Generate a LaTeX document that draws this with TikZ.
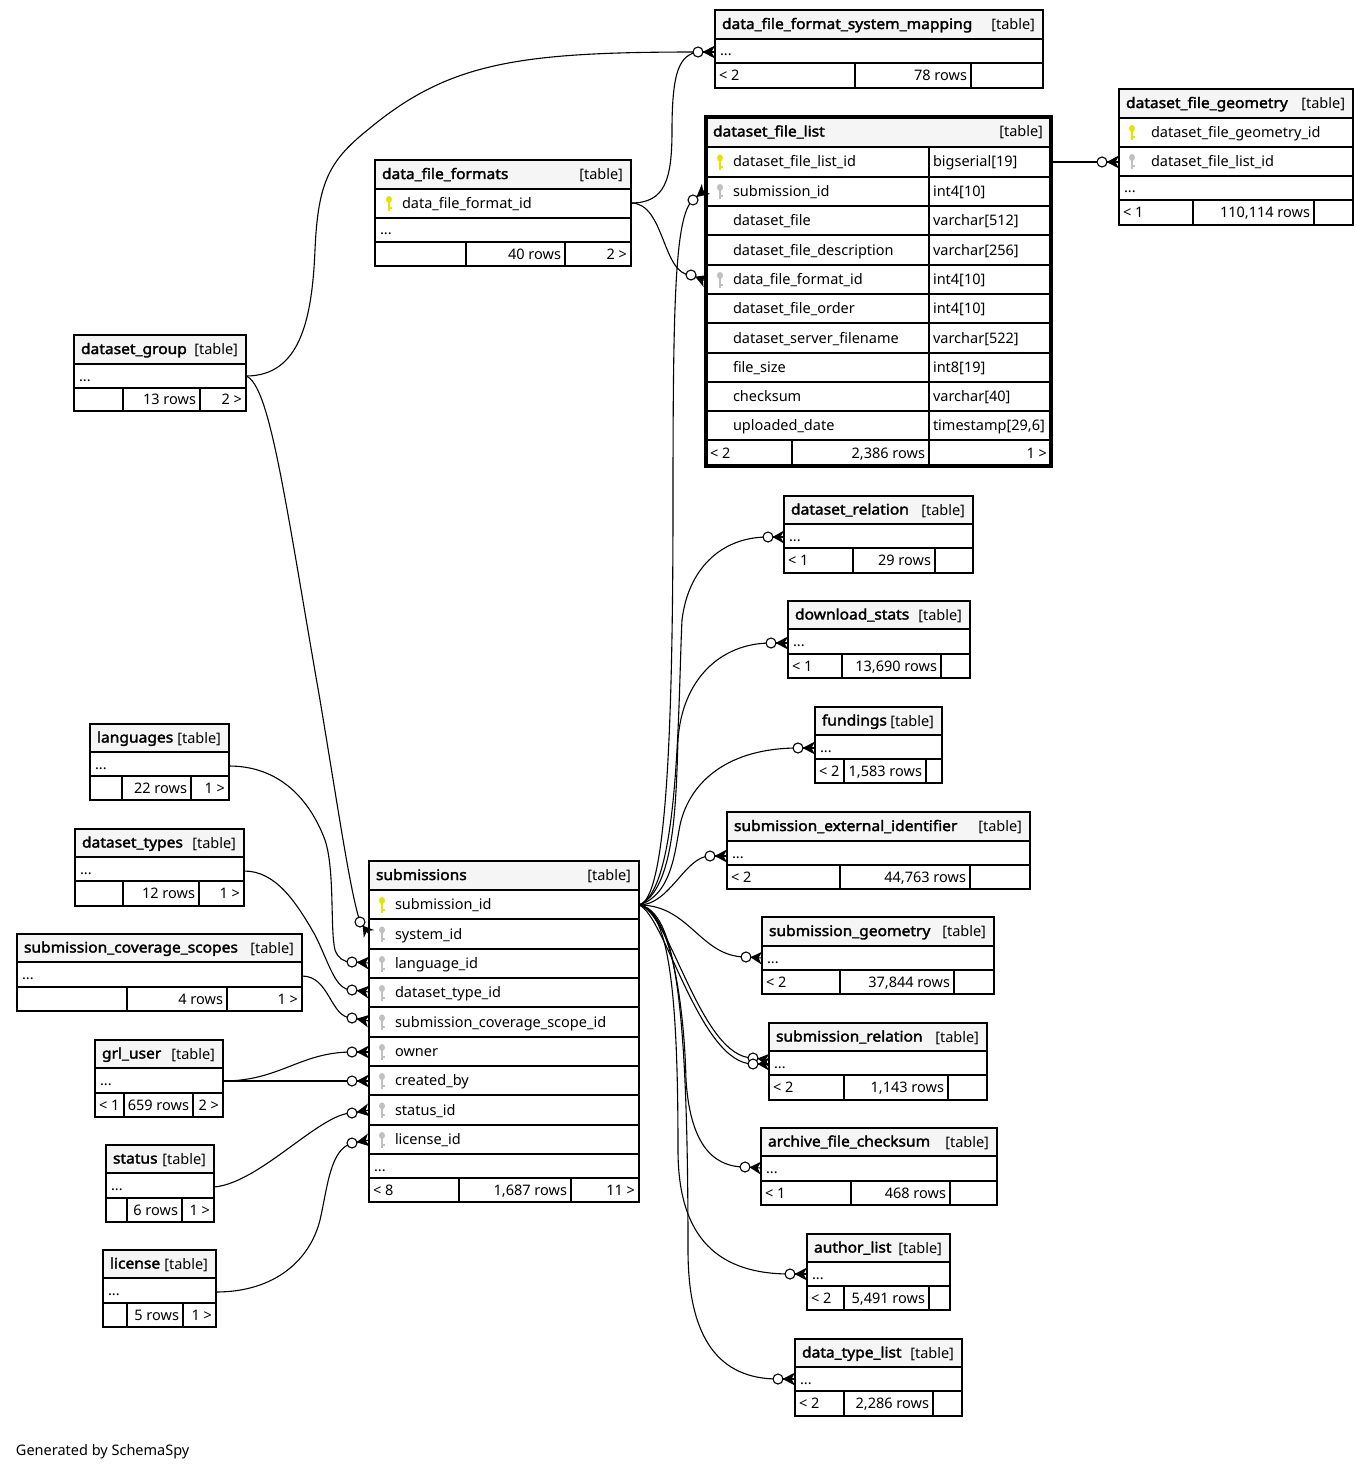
\documentclass[tikz,border=0pt]{standalone}
\usepackage{fontspec}
\setmainfont{Noto Sans}
\newfontfamily\hfont{Noto Sans}[FakeBold=2.2,FakeStretch=1.075]
\usetikzlibrary{calc}
\definecolor{headgray}{RGB}{245,245,245}
\definecolor{keyyellow}{RGB}{228,228,0}
\definecolor{keygray}{RGB}{192,192,192}
\tikzset{
  tbl/.style={draw=black, line width=1.3pt},
  txt/.style={inner sep=0pt, outer sep=0pt, anchor=base west},
  txtr/.style={inner sep=0pt, outer sep=0pt, anchor=base east},
  edge/.style={line width=1.1pt, draw=black},
  circ/.style={circle, draw=black, line width=1.1pt, fill=white, minimum size=10pt, inner sep=0pt},
}
\newcommand\KeyIcon[3]{%
  \fill[#1] ({#2},{#3-4}) ellipse [x radius=3, y radius=3.6];
  \fill[#1] ({#2-1.2},{#3-2}) rectangle ({#2+1.2},{#3+8});
  \fill[#1] ({#2+1.2},{#3+4}) rectangle ({#2+2.6},{#3+6});}
\newcommand\THead[6]{%
  \filldraw[tbl,fill=headgray] (#2,#4) rectangle (#3,#5);
  \node[txt] (#1-name) at ({#2+7},{(#4+#5)/2+4.5}) {\hfont #6};
  \node[txtr] (#1-tag) at ({#3-8},{(#4+#5)/2+5}) {[table]};}
\newcommand\TRow[9]{%
  \draw[tbl] (#2,#4) rectangle (#3,#5);
  \ifcase#6\or\KeyIcon{keyyellow}{#2+#7}{(#4+#5)/2}\or\KeyIcon{keygray}{#2+#7}{(#4+#5)/2}\fi
  \node[txt] (#1) at ({#2+#8},{(#4+#5)/2+5}) {#9};}
\newcommand\TType[6]{%
  \draw[tbl] (#2,#4) rectangle (#3,#5);
  \node[txt] (#1) at ({#2+4},{(#4+#5)/2+5}) {#6};}
\newcommand\TDots[5]{%
  \draw[tbl] (#2,#4) rectangle (#3,#5);
  \node[txt] (#1) at ({#2+5},{(#4+#5)/2+5}) {...};}
\newcommand\TFoot[8]{%
  \draw[tbl] (#2,#6) rectangle (#3,#7);
  \draw[tbl] (#3,#6) rectangle (#4,#7);
  \draw[tbl] (#4,#6) rectangle (#5,#7);
  \FootTexts{#1}{#2}{#4}{#5}{(#6+#7)/2+5}#8\endft}
\def\FootTexts#1#2#3#4#5#6/#7/#8\endft{%
  \node[txt] (#1-l) at ({#2+4},{#5}) {#6};
  \node[txtr] (#1-m) at ({#3-4},{#5}) {#7};
  \node[txtr] (#1-r) at ({#4-4},{#5}) {#8};}
\newcommand\CrowFoot[2]{%
  \fill ($(#1)!4.5pt!(#2)$) -- ($(#2)!6.5pt!90:(#1)$) -- ($(#2)!3.5pt!(#1)$) -- ($(#2)!6.5pt!-90:(#1)$) -- cycle;
  \draw[edge] ($(#1)!4.5pt!(#2)$) -- (#2);}
\begin{document}
\begin{tikzpicture}[x=1pt,y=-1pt]
\fontsize{14.5}{17}\selectfont
\fill[white] (0,0) rectangle (1369,1471);
\useasboundingbox (0,0) rectangle (1369,1471);

% ---------- ports ----------
\coordinate (dff-out) at (631,203);
\coordinate (dg-out) at (246,376);
\coordinate (sub-out) at (639,905);
\coordinate (dfl-out) at (1051,162);
\coordinate (lang-out) at (229,766);
\coordinate (dt-out) at (244,871);
\coordinate (scs-out) at (302,976);
\coordinate (grl-out) at (223,1081);
\coordinate (st-out) at (214,1187);
\coordinate (lic-out) at (216,1292);

\coordinate (c-dfsm) at (698,52);   \coordinate (p-dfsm) at (715,52);
\coordinate (c-dfl1) at (693,200);  \coordinate (p-dfl1) at (706,189);
\coordinate (c-dfl2) at (691,275);  \coordinate (p-dfl2) at (706,281);
\coordinate (c-dfg) at (1102,162);  \coordinate (p-dfg) at (1119,162);
\coordinate (c-drel) at (768,537);  \coordinate (p-drel) at (784,537);
\coordinate (c-dls) at (771,643);   \coordinate (p-dls) at (788,643);
\coordinate (c-fund) at (798,748);  \coordinate (p-fund) at (815,748);
\coordinate (c-sei) at (710,856);   \coordinate (p-sei) at (727,856);
\coordinate (c-sg) at (746,957);    \coordinate (p-sg) at (762,958);
\coordinate (c-srel1) at (753,1058);\coordinate (p-srel1) at (769,1060);
\coordinate (c-srel2) at (753,1064);\coordinate (p-srel2) at (769,1064);
\coordinate (c-afc) at (745,1167);  \coordinate (p-afc) at (761,1168);
\coordinate (c-al) at (790,1274);   \coordinate (p-al) at (807,1274);
\coordinate (c-dtl) at (778,1379);  \coordinate (p-dtl) at (795,1379);
\coordinate (c-sys) at (360,922);   \coordinate (p-sys) at (369,934);
\coordinate (c-lang) at (352,962);  \coordinate (p-lang) at (369,963);
\coordinate (c-dt) at (352,990);    \coordinate (p-dt) at (369,992);
\coordinate (c-scs) at (352,1018);  \coordinate (p-scs) at (369,1021);
\coordinate (c-own) at (352,1052);  \coordinate (p-own) at (369,1052);
\coordinate (c-cb) at (352,1081);   \coordinate (p-cb) at (369,1081);
\coordinate (c-st) at (352,1113);   \coordinate (p-st) at (369,1110);
\coordinate (c-lic) at (352,1143);  \coordinate (p-lic) at (369,1140);

% ---------- edges ----------
\draw[edge] (dg-out) .. controls (300,376) and (312,320) .. (315,250) .. controls (318,180) and (330,160) .. (370,128) .. controls (450,62) and (520,52) .. (c-dfsm);
\draw[edge] (dff-out) .. controls (665,203) and (672,180) .. (672,130) .. controls (672,70) and (680,55) .. (c-dfsm);
\draw[edge] (dff-out) .. controls (665,203) and (662,275) .. (c-dfl2);
\draw[edge] (sub-out) .. controls (665,900) and (673,750) .. (673,500) .. controls (673,300) and (675,215) .. (c-dfl1);
\draw[edge] (dfl-out) -- (c-dfg);
\draw[edge] (dg-out) .. controls (270,385) and (285,500) .. (320,700) .. controls (340,820) and (350,890) .. (c-sys);

\draw[edge] (sub-out) .. controls (680,890) and (678,700) .. (682,620) .. controls (688,570) and (720,537) .. (c-drel);
\draw[edge] (sub-out) .. controls (675,890) and (676,800) .. (678,740) .. controls (682,680) and (720,643) .. (c-dls);
\draw[edge] (sub-out) .. controls (672,895) and (675,850) .. (680,825) .. controls (690,780) and (730,748) .. (c-fund);
\draw[edge] (sub-out) .. controls (670,905) and (685,856) .. (c-sei);
\draw[edge] (sub-out) .. controls (690,905) and (700,957) .. (c-sg);
\draw[edge] (sub-out) .. controls (670,910) and (700,1058) .. (c-srel1);
\draw[edge] (sub-out) .. controls (665,915) and (700,1064) .. (c-srel2);
\draw[edge] (sub-out) .. controls (670,910) and (684,1000) .. (686,1080) .. controls (690,1140) and (710,1167) .. (c-afc);
\draw[edge] (sub-out) .. controls (670,910) and (678,1000) .. (678,1150) .. controls (678,1240) and (720,1274) .. (c-al);
\draw[edge] (sub-out) .. controls (675,910) and (688,1000) .. (688,1250) .. controls (688,1340) and (720,1379) .. (c-dtl);

\draw[edge] (lang-out) .. controls (280,766) and (310,800) .. (325,840) .. controls (335,870) and (330,930) .. (335,950) .. controls (338,958) and (343,962) .. (c-lang);
\draw[edge] (dt-out) .. controls (275,871) and (295,900) .. (315,935) .. controls (330,965) and (335,990) .. (c-dt);
\draw[edge] (scs-out) .. controls (330,976) and (330,1018) .. (c-scs);
\draw[edge] (grl-out) .. controls (280,1081) and (300,1052) .. (c-own);
\draw[edge] (grl-out) -- (c-cb);
\draw[edge] (st-out) .. controls (260,1183) and (320,1113) .. (c-st);
\draw[edge] (lic-out) .. controls (275,1292) and (310,1260) .. (320,1220) .. controls (328,1185) and (330,1150) .. (c-lic);

% ---------- circles and crow's feet ----------
\foreach \n in {dfsm,dfl1,dfl2,dfg,drel,dls,fund,sei,sg,srel1,srel2,afc,al,dtl,sys,lang,dt,scs,own,cb,st,lic}{
  \node[circ] (o-\n) at (c-\n) {};
  \CrowFoot{c-\n}{p-\n}
}

% ---------- tables ----------
% data_file_format_system_mapping
\THead{dfsm}{715}{1043}{10}{39}{data\_file\_format\_system\_mapping}
\TDots{dfsm-d}{715}{1043}{39}{63}
\TFoot{dfsm-f}{715}{855}{971}{1043}{63}{88}{< 2/78 rows/}

% dataset_file_list
\THead{dfl}{706}{1051}{117}{147}{dataset\_file\_list}
\TRow{dfl-r1}{706}{929}{147}{177}{1}{14}{27}{dataset\_file\_list\_id}\TType{dfl-t1}{929}{1051}{147}{177}{bigserial[19]}
\TRow{dfl-r2}{706}{929}{177}{206}{2}{14}{27}{submission\_id}\TType{dfl-t2}{929}{1051}{177}{206}{int4[10]}
\TRow{dfl-r3}{706}{929}{206}{235}{0}{14}{27}{dataset\_file}\TType{dfl-t3}{929}{1051}{206}{235}{varchar[512]}
\TRow{dfl-r4}{706}{929}{235}{265}{0}{14}{27}{dataset\_file\_description}\TType{dfl-t4}{929}{1051}{235}{265}{varchar[256]}
\TRow{dfl-r5}{706}{929}{265}{294}{2}{14}{27}{data\_file\_format\_id}\TType{dfl-t5}{929}{1051}{265}{294}{int4[10]}
\TRow{dfl-r6}{706}{929}{294}{323}{0}{14}{27}{dataset\_file\_order}\TType{dfl-t6}{929}{1051}{294}{323}{int4[10]}
\TRow{dfl-r7}{706}{929}{323}{353}{0}{14}{27}{dataset\_server\_filename}\TType{dfl-t7}{929}{1051}{323}{353}{varchar[522]}
\TRow{dfl-r8}{706}{929}{353}{382}{0}{14}{27}{file\_size}\TType{dfl-t8}{929}{1051}{353}{382}{int8[19]}
\TRow{dfl-r9}{706}{929}{382}{411}{0}{14}{27}{checksum}\TType{dfl-t9}{929}{1051}{382}{411}{varchar[40]}
\TRow{dfl-r10}{706}{929}{411}{440}{0}{14}{27}{uploaded\_date}\TType{dfl-t10}{929}{1051}{411}{440}{timestamp[29,6]}
\TFoot{dfl-f}{706}{792}{929}{1051}{440}{466}{< 2/2,386 rows/1 >}
\draw[line width=3.5pt] (706,117) rectangle (1051,466);

% dataset_file_geometry
\THead{dfg}{1119}{1353}{89}{118}{dataset\_file\_geometry}
\TRow{dfg-r1}{1119}{1353}{118}{147}{1}{13}{32}{dataset\_file\_geometry\_id}
\TRow{dfg-r2}{1119}{1353}{147}{176}{2}{13}{32}{dataset\_file\_list\_id}
\TDots{dfg-d}{1119}{1353}{176}{200}
\TFoot{dfg-f}{1119}{1193}{1314}{1353}{200}{225}{< 1/110,114 rows/}

% data_file_formats
\THead{dff}{375}{631}{160}{189}{data\_file\_formats}
\TRow{dff-r1}{375}{631}{189}{218}{1}{14}{27}{data\_file\_format\_id}
\TDots{dff-d}{375}{631}{218}{242}
\TFoot{dff-f}{375}{466}{565}{631}{242}{266}{/40 rows/2 >}

% dataset_group
\THead{dg}{74}{246}{335}{364}{dataset\_group}
\TDots{dg-d}{74}{246}{364}{388}
\TFoot{dg-f}{74}{123}{200}{246}{388}{411}{/13 rows/2 >}

% right column
\THead{drel}{784}{973}{496}{524}{dataset\_relation}
\TDots{drel-d}{784}{973}{524}{548}
\TFoot{drel-f}{784}{853}{935}{973}{548}{573}{< 1/29 rows/}

\THead{dls}{788}{970}{601}{629}{download\_stats}
\TDots{dls-d}{788}{970}{629}{654}
\TFoot{dls-f}{788}{842}{941}{970}{654}{678}{< 1/13,690 rows/}

\THead{fund}{815}{942}{707}{735}{fundings}
\TDots{fund-d}{815}{942}{735}{759}
\TFoot{fund-f}{815}{844}{926}{942}{759}{783}{< 2/1,583 rows/}

\THead{sei}{727}{1030}{812}{841}{submission\_external\_identifier}
\TDots{sei-d}{727}{1030}{841}{865}
\TFoot{sei-f}{727}{840}{970}{1030}{865}{889}{< 2/44,763 rows/}

\THead{sg}{762}{994}{917}{946}{submission\_geometry}
\TDots{sg-d}{762}{994}{946}{970}
\TFoot{sg-f}{762}{840}{954}{994}{970}{994}{< 2/37,844 rows/}

\THead{srel}{769}{987}{1023}{1051}{submission\_relation}
\TDots{srel-d}{769}{987}{1051}{1075}
\TFoot{srel-f}{769}{844}{948}{987}{1075}{1100}{< 2/1,143 rows/}

\THead{afc}{761}{997}{1128}{1156}{archive\_file\_checksum}
\TDots{afc-d}{761}{997}{1156}{1181}
\TFoot{afc-f}{761}{851}{950}{997}{1181}{1205}{< 1/468 rows/}

\THead{al}{807}{950}{1234}{1262}{author\_list}
\TDots{al-d}{807}{950}{1262}{1286}
\TFoot{al-f}{807}{844}{929}{950}{1286}{1310}{< 2/5,491 rows/}

\THead{dtl}{795}{962}{1339}{1367}{data\_type\_list}
\TDots{dtl-d}{795}{962}{1367}{1391}
\TFoot{dtl-f}{795}{844}{933}{962}{1391}{1416}{< 2/2,286 rows/}

% left column
\THead{lang}{90}{229}{724}{752}{languages}
\TDots{lang-d}{90}{229}{752}{776}
\TFoot{lang-f}{90}{122}{191}{229}{776}{800}{/22 rows/1 >}

\THead{dt}{75}{244}{829}{857}{dataset\_types}
\TDots{dt-d}{75}{244}{857}{881}
\TFoot{dt-f}{75}{123}{199}{244}{881}{906}{/12 rows/1 >}

\THead{scs}{17}{302}{934}{962}{submission\_coverage\_scopes}
\TDots{scs-d}{17}{302}{962}{987}
\TFoot{scs-f}{17}{127}{227}{302}{987}{1011}{/4 rows/1 >}

\THead{grl}{95}{223}{1040}{1068}{grl\_user}
\TDots{grl-d}{95}{223}{1068}{1093}
\TFoot{grl-f}{95}{124}{193}{223}{1093}{1117}{< 1/659 rows/2 >}

\THead{st}{106}{214}{1145}{1173}{status}
\TDots{st-d}{106}{214}{1173}{1198}
\TFoot{st-f}{106}{127}{182}{214}{1198}{1222}{/6 rows/1 >}

\THead{lic}{103}{216}{1250}{1278}{license}
\TDots{lic-d}{103}{216}{1278}{1303}
\TFoot{lic-f}{103}{127}{183}{216}{1303}{1327}{/5 rows/1 >}

% submissions
\THead{sub}{369}{639}{861}{890}{submissions}
\TRow{sub-r1}{369}{639}{890}{919}{1}{13}{26}{submission\_id}
\TRow{sub-r2}{369}{639}{919}{949}{2}{13}{26}{system\_id}
\TRow{sub-r3}{369}{639}{949}{978}{2}{13}{26}{language\_id}
\TRow{sub-r4}{369}{639}{978}{1007}{2}{13}{26}{dataset\_type\_id}
\TRow{sub-r5}{369}{639}{1007}{1037}{2}{13}{26}{submission\_coverage\_scope\_id}
\TRow{sub-r6}{369}{639}{1037}{1066}{2}{13}{26}{owner}
\TRow{sub-r7}{369}{639}{1066}{1095}{2}{13}{26}{created\_by}
\TRow{sub-r8}{369}{639}{1095}{1125}{2}{13}{26}{status\_id}
\TRow{sub-r9}{369}{639}{1125}{1154}{2}{13}{26}{license\_id}
\TDots{sub-d}{369}{639}{1154}{1178}
\TFoot{sub-f}{369}{459}{571}{639}{1178}{1202}{< 8/1,687 rows/11 >}

\node[txt] (gen) at (16,1455) {Generated by SchemaSpy};
\end{tikzpicture}
\end{document}
